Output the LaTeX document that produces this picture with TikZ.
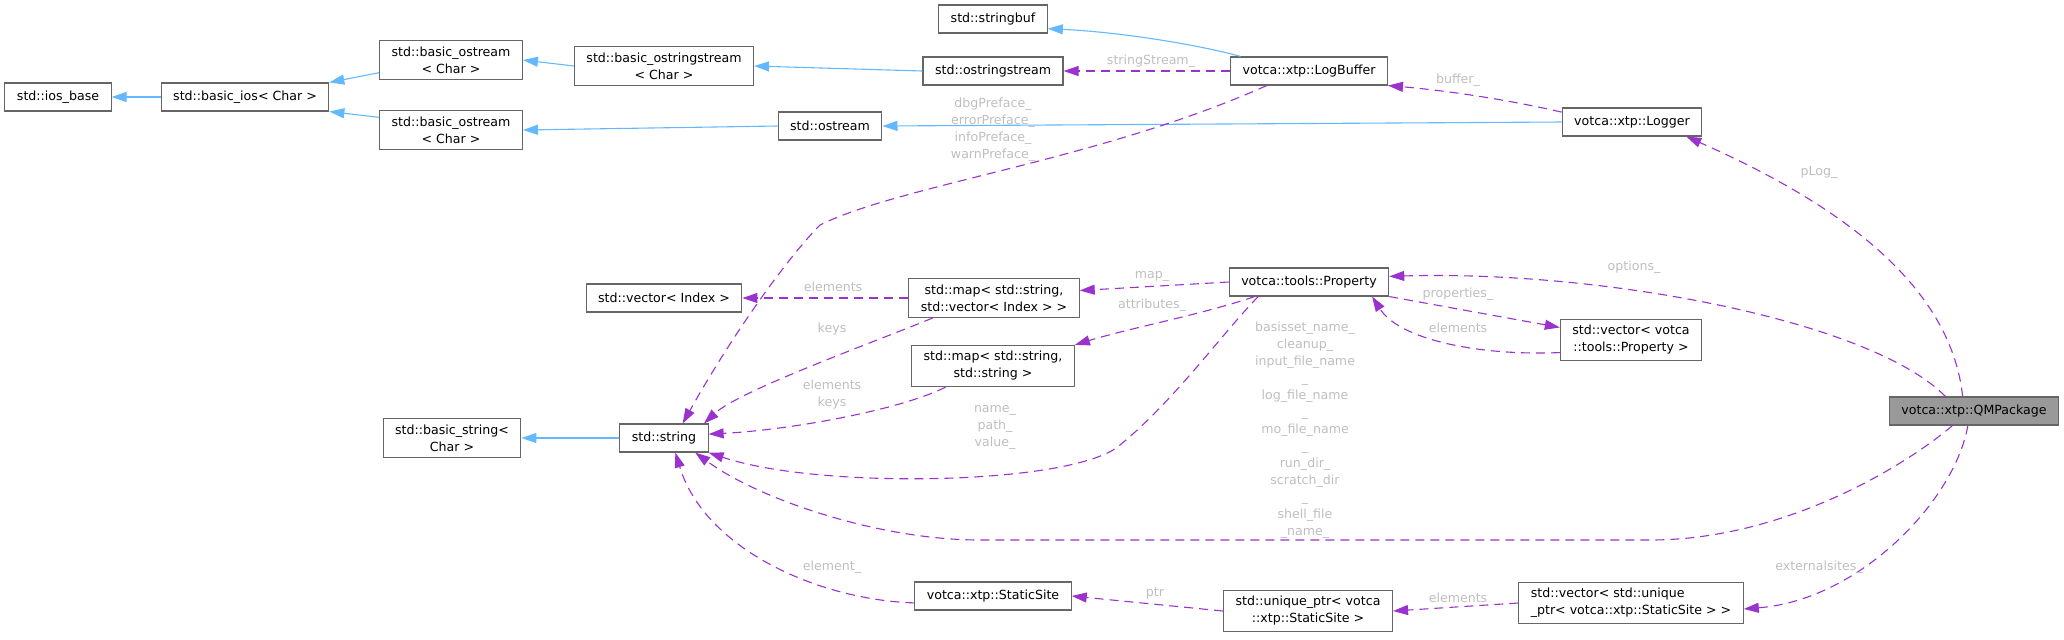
\documentclass[tikz,border=0pt]{standalone}
\usepackage{fontspec}
\setmainfont{DejaVu Sans}
\usetikzlibrary{arrows.meta}

\definecolor{inhblue}{HTML}{63B8FF}
\definecolor{usepurple}{HTML}{9A32CD}
\definecolor{lblgray}{HTML}{BEBEBE}
\definecolor{boxgray}{HTML}{666666}
\definecolor{mainfill}{HTML}{999999}

\tikzset{
  cls/.style={draw=boxgray, line width=0.55pt, fill=white, inner xsep=6pt, inner ysep=3pt, minimum height=14pt, align=center, font=\fontsize{6.3}{8.5}\selectfont},
  inherit/.style={draw=inhblue, line width=0.55pt, -{Triangle[length=7.5pt,width=5pt]}},
  member/.style={draw=usepurple, line width=0.55pt, dash pattern=on 4.5pt off 3pt, -{Triangle[length=7.5pt,width=5pt]}},
  lbl/.style={text=lblgray, align=center, inner sep=0pt, font=\fontsize{6.3}{8.5}\selectfont}
}

\begin{document}
\begin{tikzpicture}[x=0.5pt,y=-0.5pt]
\useasboundingbox (0,0) rectangle (2064,639);

%classes
\node[cls] (iosbase) at (58,97) {std::ios\_base};
\node[cls] (basicios) at (245,97) {std::basic\_ios< Char >};
\node[cls] (ostreamA) at (451,60) {std::basic\_ostream\\< Char >};
\node[cls] (ostreamB) at (451,130) {std::basic\_ostream\\< Char >};
\node[cls] (bostrstream) at (664,66) {std::basic\_ostringstream\\< Char >};
\node[cls] (stringbuf) at (993,19) {std::stringbuf};
\node[cls] (ostrstream) at (993,71) {std::ostringstream};
\node[cls] (logbuffer) at (1309,71) {votca::xtp::LogBuffer};
\node[cls] (ostream) at (830,126) {std::ostream};
\node[cls] (logger) at (1632,122) {votca::xtp::Logger};
\node[cls] (vecindex) at (664,298) {std::vector< Index >};
\node[cls] (mapvec) at (994,298) {std::map< std::string,\\std::vector< Index > >};
\node[cls] (property) at (1309,282) {votca::tools::Property};
\node[cls] (vecprop) at (1631,340) {std::vector< votca\\::tools::Property >};
\node[cls] (mapstr) at (993,366) {std::map< std::string,\\std::string >};
\node[cls] (basicstring) at (452,438) {std::basic\_string<\\Char >};
\node[cls] (string) at (664,438) {std::string};
\node[cls, fill=mainfill] (qmpackage) at (1974,411) {votca::xtp::QMPackage};
\node[cls] (staticsite) at (993,596) {votca::xtp::StaticSite};
\node[cls] (uniqueptr) at (1308,611) {std::unique\_ptr< votca\\::xtp::StaticSite >};
\node[cls, align=left] (vecunique) at (1631,603) {std::vector< std::unique\\\_ptr< votca::xtp::StaticSite > >};

%inheritance
\draw[inherit] (basicios.west) -- (iosbase.east);
\draw[inherit] (ostreamA.190) -- (basicios.north east);
\draw[inherit] (ostreamB.170) -- (basicios.south east);
\draw[inherit] (bostrstream.west) -- (ostreamA.east);
\draw[inherit] (ostrstream.west) -- (bostrstream.east);
\draw[inherit] (logbuffer.168) .. controls (1200,45) and (1120,32) .. (stringbuf.-10);
\draw[inherit] (logger.west) -- (ostream.east);
\draw[inherit] (ostream.west) -- (ostreamB.east);
\draw[inherit] (string.west) -- (basicstring.east);

%members
\draw[member] (logbuffer.west) -- (ostrstream.east);
\node[lbl] (lstrstream) at (1151,61) {stringStream\_};
\draw[member] (logger.172) .. controls (1500,98) and (1440,90) .. (logbuffer.south east);
\node[lbl] (lbuffer) at (1458,80) {buffer\_};
\draw[member] (qmpackage.128) .. controls (1950,280) and (1830,200) .. (logger.-15);
\node[lbl] (lplog) at (1819,172) {pLog\_};
\draw[member] (logbuffer.-161) .. controls (1100,160) and (900,185) .. (820,225) .. controls (790,255) and (735,330) .. (string.38);
\node[lbl] (lpreface) at (993,130) {dbgPreface\_\\errorPreface\_\\infoPreface\_\\warnPreface\_};

\draw[member] (mapvec.west) -- (vecindex.east);
\node[lbl] (lvecelem) at (833,287) {elements};
\draw[member] (property.west) -- (mapvec.5);
\node[lbl] (lmap) at (1152,276) {map\_};
\draw[member] (property.-165) .. controls (1200,315) and (1130,328) .. (mapstr.north east);
\node[lbl] (lattr) at (1152,305) {attributes\_};
\draw[member] (mapvec.-162) .. controls (880,340) and (740,390) .. (string.20);
\node[lbl] (lkeys) at (832,329) {keys};
\draw[member] (mapstr.-156) .. controls (900,410) and (790,430) .. (string.5);
\node[lbl] (lelemkeys) at (832,395) {elements\\keys};
\draw[member] (property.-164) .. controls (1225,330) and (1175,400) .. (1120,445) .. controls (1075,485) and (820,490) .. (string.south east);
\node[lbl] (lname) at (995,427) {name\_\\path\_\\value\_};

\draw[member] (property.south east) -- (vecprop.170);
\node[lbl] (lprops) at (1458,294) {properties\_};
\draw[member] (vecprop.190) .. controls (1480,356) and (1400,340) .. (property.-13);
\node[lbl] (lpropelem) at (1458,328) {elements};
\draw[member] (qmpackage.153) .. controls (1870,320) and (1600,270) .. (property.4);
\node[lbl] (loptions) at (1634,267) {options\_};

\draw[member] (qmpackage.-146) .. controls (1900,470) and (1780,540) .. (1650,540) -- (980,540) .. controls (880,540) and (760,500) .. (string.-25);
\node[lbl] (lfiles) at (1305,430) {basisset\_name\_\\cleanup\_\\input\_file\_name\\\_\\log\_file\_name\\\_\\mo\_file\_name\\\_\\run\_dir\_\\scratch\_dir\\\_\\shell\_file\\\_name\_};
\draw[member] (qmpackage.-113) .. controls (1955,500) and (1860,600) .. (vecunique.-3);
\node[lbl] (lextsites) at (1819,567) {externalsites\_};
\draw[member] (vecunique.west) -- (uniqueptr.east);
\node[lbl] (luniqelem) at (1458,598) {elements};
\draw[member] (uniqueptr.west) -- (staticsite.east);
\node[lbl] (lptr) at (1155,593) {ptr};
\draw[member] (staticsite.185) .. controls (820,600) and (705,550) .. (string.-52);
\node[lbl] (lelement) at (832,567) {element\_};

\end{tikzpicture}
\end{document}
